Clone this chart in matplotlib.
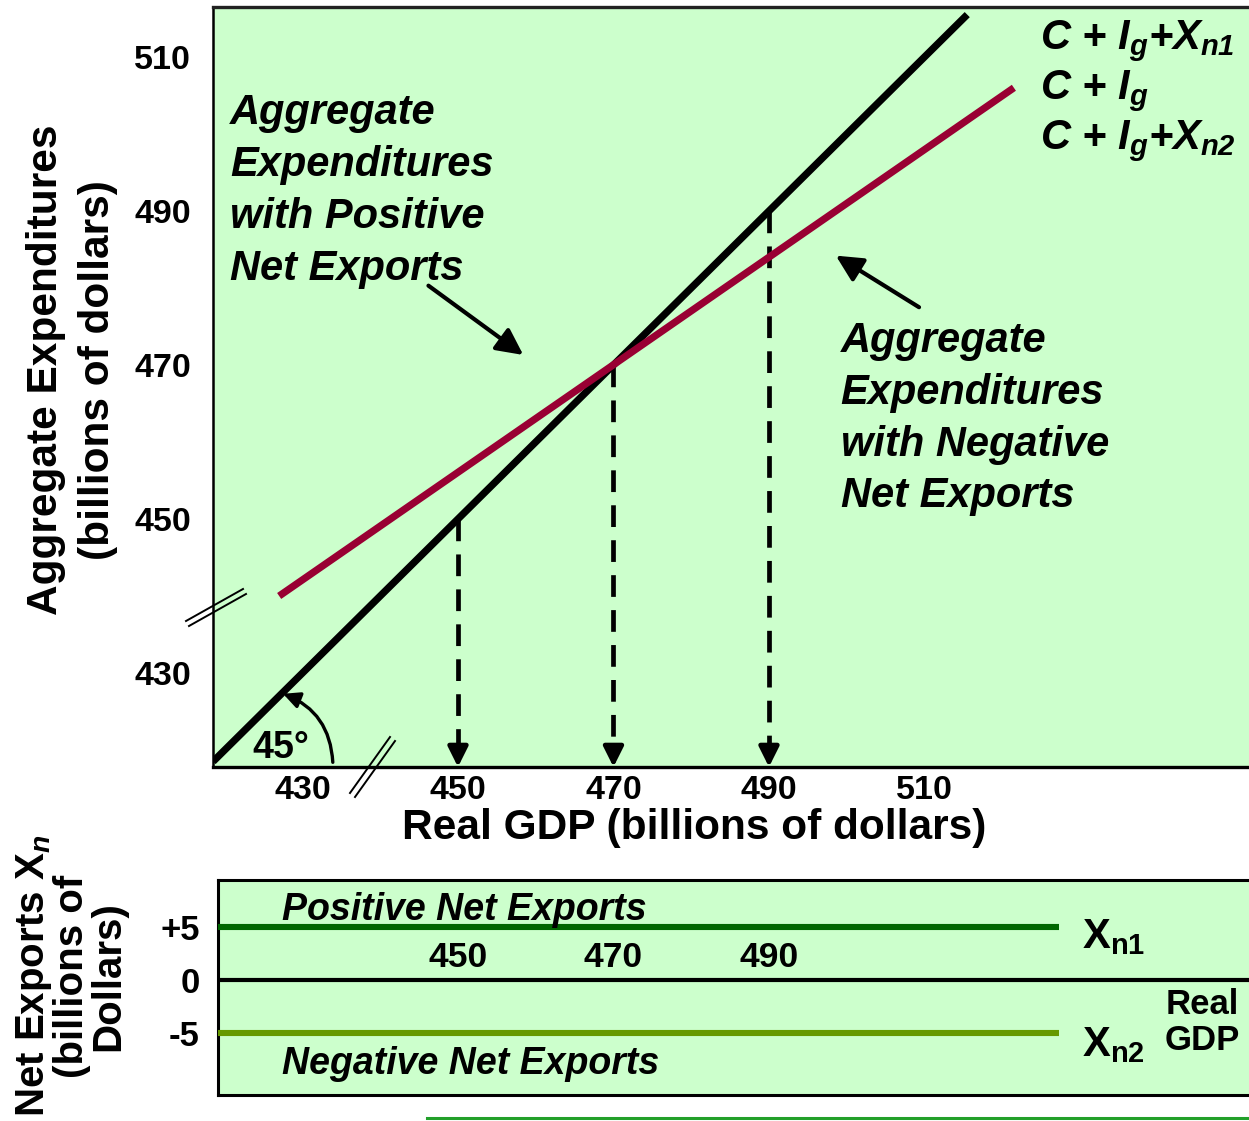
import matplotlib
matplotlib.use("Agg")
import matplotlib.pyplot as plt
from matplotlib.lines import Line2D

plt.rcParams["font.family"] = ["Liberation Sans", "DejaVu Sans"]
plt.rcParams["font.weight"] = "bold"
plt.rcParams["mathtext.fontset"] = "custom"
plt.rcParams["mathtext.rm"] = "Liberation Sans:bold:italic"
plt.rcParams["mathtext.it"] = "Liberation Sans:bold:italic"
plt.rcParams["mathtext.bf"] = "Liberation Sans:bold"

# ---- data -------------------------------------------------------------
gdp_ticks = [430, 450, 470, 490, 510]
ae_ticks = [430, 450, 470, 490, 510]

# 45-degree reference line (spending = output)
ref_gdp = [418.5, 515.5]
ref_spend = [418.5, 515.5]

# aggregate expenditures schedule
ae_gdp = [427.0, 521.5]
ae_spend = [440.0, 506.0]

# equilibrium GDP levels
equilibria = [450, 470, 490]

# net exports schedules (lower panel)
nx_gdp = [419.13, 527.3]
xn1 = [5, 5]
xn2 = [-5, -5]
nx_ticks = [5, 0, -5]
nx_tick_labels = ["+5", "0", "-5"]
nx_gdp_labels = [450, 470, 490]

# ---- colours ------------------------------------------------------------
BG = "#CCFFCC"
RED = "#990033"
DARK_GREEN = "#006600"
OLIVE = "#669900"

W, H = 1249, 1121
fig = plt.figure(figsize=(W / 100, H / 100), dpi=100)


def box(l, t, r, b):
    return [l / W, 1 - b / H, (r - l) / W, (b - t) / H]


# ======================= upper panel ====================================
ax = fig.add_axes(box(213, 7, 1249, 767))
ax.set_facecolor(BG)
ax.set_xlim(418.49, 551.74)
ax.set_ylim(417.79, 516.49)
ax.spines["right"].set_visible(False)
ax.spines["top"].set_linewidth(2.4)
ax.spines["top"].set_color("#222222")
ax.spines["left"].set_linewidth(1.8)
ax.spines["bottom"].set_linewidth(2.4)

ax.set_xticks(gdp_ticks)
ax.set_yticks(ae_ticks)
ax.set_xticklabels([str(v) for v in gdp_ticks])
ax.set_yticklabels([str(v) for v in ae_ticks])
ax.tick_params(axis="both", length=0, labelsize=24.5)
ax.tick_params(axis="y", pad=16)
ax.tick_params(axis="x", pad=6)

# 45-degree line and AE schedule
ax.plot(ref_gdp, ref_spend, color="black", lw=5.2, solid_capstyle="butt", zorder=3)
ax.plot(ae_gdp, ae_spend, color=RED, lw=5.2, solid_capstyle="butt", zorder=4)

# dashed drop lines with arrowheads at the GDP axis
y0 = ax.get_ylim()[0]
for v in equilibria:
    ax.plot([v, v], [v, y0 + 2.2], color="black", lw=3.4,
            linestyle=(0, (4.6, 2.8)), zorder=2)
    ax.annotate("", xy=(v, y0), xytext=(v, y0 + 2.4),
                arrowprops=dict(arrowstyle="-|>,head_length=0.4,head_width=0.2",
                                mutation_scale=30, color="black", lw=3.4,
                                shrinkA=0, shrinkB=0), zorder=2)

# 45 degree marker
ax.annotate("", xy=(427.5, 427.3), xytext=(433.9, 418.4),
            arrowprops=dict(arrowstyle="-|>,head_length=0.45,head_width=0.22",
                            mutation_scale=22, color="black", lw=2.4,
                            connectionstyle="arc3,rad=0.32",
                            shrinkA=0, shrinkB=0))
ax.text(423.6, 418.9, "45°", fontsize=27, fontweight="bold",
        ha="left", va="baseline")

# explanatory text and pointers
ax.text(420.7, 505.3, "Aggregate\nExpenditures\nwith Positive\nNet Exports",
        fontsize=30, fontweight="bold", style="italic", ha="left", va="top",
        linespacing=1.38)
ax.text(499.2, 475.7, "Aggregate\nExpenditures\nwith Negative\nNet Exports",
        fontsize=30, fontweight="bold", style="italic", ha="left", va="top",
        linespacing=1.38)
ptr = dict(arrowstyle="-|>,head_length=0.5,head_width=0.25",
           mutation_scale=32, color="black", lw=3.0, shrinkA=0, shrinkB=0)
ax.annotate("", xy=(458.4, 471.3), xytext=(446.2, 480.3), arrowprops=ptr)
ax.annotate("", xy=(498.6, 484.2), xytext=(509.3, 477.5), arrowprops=ptr)

# schedule labels
for yb, s in [(511.0, r"C + $I_g$+$X_{n1}$"),
              (504.5, r"C + $I_g$"),
              (498.0, r"C + $I_g$+$X_{n2}$")]:
    ax.text(524.8, yb, s, fontsize=30, fontweight="bold", style="italic",
            ha="left", va="baseline")

# axis titles
ax.text(0.464, -0.054, "Real GDP (billions of dollars)", transform=ax.transAxes,
        fontsize=30.5, fontweight="bold", ha="center", va="top")
ax.text((72 - 213) / 1036, (767 - 370) / 760,
        "Aggregate Expenditures\n(billions of dollars)", transform=ax.transAxes,
        fontsize=30.5, fontweight="bold", rotation=90, ha="center", va="center",
        multialignment="center", linespacing=1.37)

# ======================= lower panel ====================================
bx = fig.add_axes(box(218, 880, 1249, 1095))
bx.set_facecolor(BG)
bx.set_xlim(419.13, 551.74)
bx.set_ylim(-10.85, 9.43)
bx.spines["right"].set_visible(False)
for side in ("top", "bottom", "left"):
    bx.spines[side].set_linewidth(2.2)
bx.set_xticks([])
bx.set_yticks(nx_ticks)
bx.set_yticklabels(nx_tick_labels)
bx.tick_params(axis="y", length=0, labelsize=25, pad=13)

bx.axhline(0, color="black", lw=3.0, zorder=2)
bx.plot(nx_gdp, xn1, color=DARK_GREEN, lw=4.4, solid_capstyle="butt", zorder=3)
bx.plot(nx_gdp, xn2, color=OLIVE, lw=4.4, solid_capstyle="butt", zorder=3)

for v in nx_gdp_labels:
    bx.text(v, 2.1, str(v), fontsize=25.5, fontweight="bold",
            ha="center", va="center")

bx.text(427.4, 6.6, "Positive Net Exports", fontsize=27, fontweight="bold",
        style="italic", ha="left", va="center")
bx.text(427.4, -7.9, "Negative Net Exports", fontsize=27, fontweight="bold",
        style="italic", ha="left", va="center")
bx.text(530.3, 3.0, r"$\mathbf{X_{n1}}$", fontsize=30, ha="left", va="baseline")
bx.text(530.3, -7.2, r"$\mathbf{X_{n2}}$", fontsize=30, ha="left", va="baseline")
bx.text(545.7, -0.75, "Real\nGDP", fontsize=25, fontweight="bold",
        ha="center", va="top", multialignment="center", linespacing=1.1)

bx.text((71 - 218) / 1031, (1095 - 976) / 215,
        "Net Exports $\\mathbf{X}_n$\n(billions of\nDollars)",
        transform=bx.transAxes, fontsize=29, fontweight="bold", rotation=90,
        ha="center", va="center", multialignment="center", linespacing=0.95)

# axis-break marks
brk = dict(color="black", lw=1.4, transform=fig.transFigure, clip_on=False)
for (x1, y1, x2, y2) in [(186, 621, 243, 589), (189, 626, 246, 594),
                         (350, 793, 390, 737), (355, 797, 395, 741)]:
    fig.add_artist(Line2D([x1 / W, x2 / W], [1 - y1 / H, 1 - y2 / H], **brk))

# rule along the bottom edge
fig.add_artist(Line2D([427 / W, 1.0], [1 - 1118 / H] * 2, color="#22A02A",
                      lw=2.2, transform=fig.transFigure))

fig.savefig("out.png", dpi=100)
